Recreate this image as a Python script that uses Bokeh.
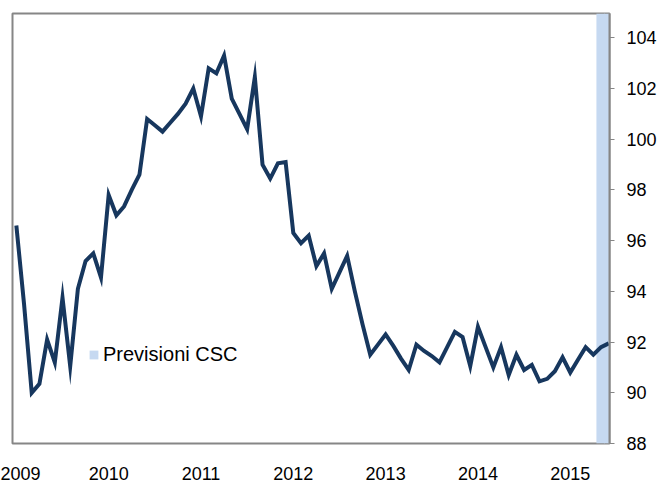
from bokeh.plotting import figure
from bokeh.models import Range1d, LinearAxis, FixedTicker, Legend, LegendItem
from bokeh.embed import file_html
from bokeh.resources import INLINE

# ---- data ----
year_labels = ["2009", "2010", "2011", "2012", "2013", "2014", "2015"]
months_per_year = 12
values = [96.6, 93.5, 90.0, 90.35, 92.1, 91.2, 93.75, 91.05, 94.1, 95.2, 95.5, 94.55,
          97.8, 97.0, 97.35, 98.0, 98.6, 100.8, 100.55, 100.3, 100.65, 101.0, 101.4, 102.0,
          100.9, 102.8, 102.6, 103.3, 101.6, 101.0, 100.4, 102.45, 99.0, 98.45, 99.05, 99.1,
          96.3, 95.9, 96.2, 95.0, 95.5, 94.1, 94.75, 95.4, 94.0, 92.7, 91.5, 91.9,
          92.3, 91.85, 91.35, 90.9, 91.9, 91.65, 91.45, 91.2, 91.8, 92.4, 92.2, 91.05,
          92.6, 91.8, 91.0, 91.8, 90.7, 91.5, 90.9, 91.1, 90.45, 90.55, 90.85, 91.4,
          90.8, 91.3, 91.8, 91.5, 91.8, 91.95]
forecast_months = [76, 77]   # months covered by CSC forecasts
y_ticks = [88, 90, 92, 94, 96, 98, 100, 102, 104]
legend_label = "Previsioni CSC"

x = list(range(len(values)))
Y0, Y1 = 88, 104.96

LINE = "#17375E"
BAND = "#C6D9F1"
GRAY = "#868686"
FONT = "Liberation Sans"

p = figure(width=659, height=482, output_backend="svg", toolbar_location=None,
           x_range=Range1d(-0.5, 77.1), y_range=Range1d(Y0, Y1),
           min_border_left=12, min_border_top=13, min_border_bottom=39, min_border_right=49)
p.xaxis.visible = False
p.yaxis.visible = False
p.grid.visible = False
p.outline_line_color = GRAY
p.outline_line_width = 2
p.background_fill_color = "white"
p.border_fill_color = "white"

band = p.quad(left=[m - 0.6 for m in forecast_months], right=[m + 0.5 for m in forecast_months],
              bottom=Y0, top=Y1, fill_color=BAND, line_color=None)
p.line(x, values, line_color=LINE, line_width=4, line_join="miter")

# right value axis
ax = LinearAxis(ticker=FixedTicker(ticks=y_ticks))
ax.axis_line_color = GRAY
ax.axis_line_width = 2
ax.major_tick_line_color = GRAY
ax.major_tick_in = 0
ax.major_tick_out = 5
ax.minor_tick_line_color = None
ax.major_label_standoff = 12
ax.major_label_text_font = FONT
ax.major_label_text_font_size = "18px"
ax.major_label_text_color = "black"
p.add_layout(ax, "right")

# bottom year axis
bx = LinearAxis(ticker=FixedTicker(ticks=[i * months_per_year for i in range(len(year_labels))]))
bx.major_label_overrides = {i * months_per_year: lab for i, lab in enumerate(year_labels)}
bx.axis_line_color = None
bx.major_tick_line_color = None
bx.minor_tick_line_color = None
bx.major_label_standoff = 17
bx.major_label_text_font = FONT
bx.major_label_text_font_size = "18px"
bx.major_label_text_color = "black"
p.add_layout(bx, "below")

leg = Legend(items=[LegendItem(label=legend_label, renderers=[band])], location=(76, 77))
leg.glyph_width = 11
leg.glyph_height = 11
leg.label_standoff = 4
leg.padding = 0
leg.margin = 0
leg.label_height = 20
leg.label_text_font = FONT
leg.label_text_font_size = "20px"
leg.label_text_color = "black"
leg.border_line_color = None
leg.background_fill_alpha = 0
p.add_layout(leg, "center")

open("out.html", "w").write(file_html(p, INLINE))
